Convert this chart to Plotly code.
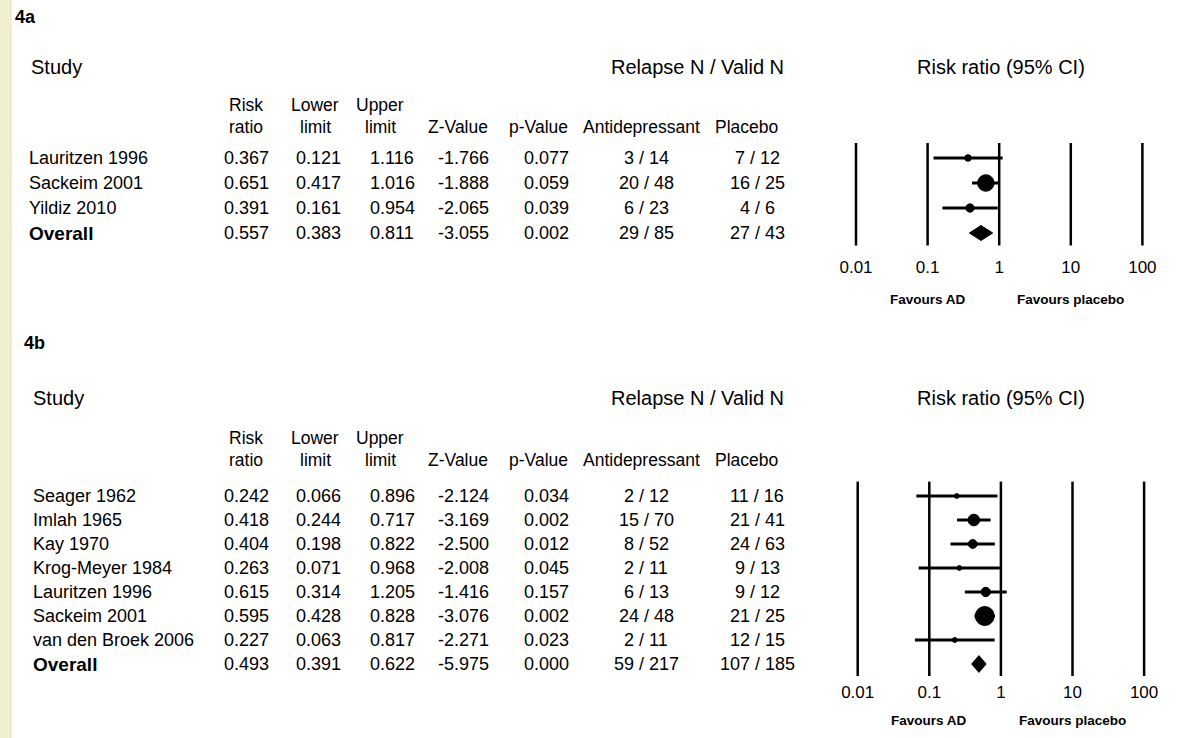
import math
import plotly.graph_objects as go

W, H = 1178, 738
FONT = "Arial, 'Liberation Sans', sans-serif"

# ---- 4a: relapse prevention trials ----
a_studies = ["Lauritzen 1996", "Sackeim 2001", "Yildiz 2010"]
a_rr = [0.367, 0.651, 0.391]
a_lower = [0.121, 0.417, 0.161]
a_upper = [1.116, 1.016, 0.954]
a_z = [-1.766, -1.888, -2.065]
a_p = [0.077, 0.059, 0.039]
a_ad_relapse = [3, 20, 6]
a_ad_n = [14, 48, 23]
a_pl_relapse = [7, 16, 4]
a_pl_n = [12, 25, 6]
a_overall = [0.557, 0.383, 0.811, -3.055, 0.002, 29, 85, 27, 43]

# ---- 4b: continuation trials ----
b_studies = ["Seager 1962", "Imlah 1965", "Kay 1970", "Krog-Meyer 1984",
             "Lauritzen 1996", "Sackeim 2001", "van den Broek 2006"]
b_rr = [0.242, 0.418, 0.404, 0.263, 0.615, 0.595, 0.227]
b_lower = [0.066, 0.244, 0.198, 0.071, 0.314, 0.428, 0.063]
b_upper = [0.896, 0.717, 0.822, 0.968, 1.205, 0.828, 0.817]
b_z = [-2.124, -3.169, -2.500, -2.008, -1.416, -3.076, -2.271]
b_p = [0.034, 0.002, 0.012, 0.045, 0.157, 0.002, 0.023]
b_ad_relapse = [2, 15, 8, 2, 6, 24, 2]
b_ad_n = [12, 70, 52, 11, 13, 48, 11]
b_pl_relapse = [11, 21, 24, 9, 9, 21, 12]
b_pl_n = [16, 41, 63, 13, 12, 25, 15]
b_overall = [0.493, 0.391, 0.622, -5.975, 0.000, 59, 217, 107, 185]

scale_ticks = [0.01, 0.1, 1, 10, 100]
scale_labels = ["0.01", "0.1", "1", "10", "100"]
head_line1 = ["Risk", "Lower", "Upper"]
head_line2 = ["ratio", "limit", "limit", "Z-Value", "p-Value", "Antidepressant", "Placebo"]

panels = [
    dict(tag="4a", studies=a_studies, rr=a_rr, lo=a_lower, hi=a_upper, z=a_z, p=a_p,
         adr=a_ad_relapse, adn=a_ad_n, plr=a_pl_relapse, pln=a_pl_n, ov=a_overall,
         xa="x", ya="y", tag_x=13, tag_y=17, title_y=67, h1_y=105, h2_y=127,
         row0=158, step=25, name_x=27, study_x=29, zero_px=856, dom=(130, 255),
         fav_y=299, max_marker=16.5, diamond_h=0.3),
    dict(tag="4b", studies=b_studies, rr=b_rr, lo=b_lower, hi=b_upper, z=b_z, p=b_p,
         adr=b_ad_relapse, adn=b_ad_n, plr=b_pl_relapse, pln=b_pl_n, ov=b_overall,
         xa="x2", ya="y2", tag_x=22, tag_y=343, title_y=398, h1_y=438, h2_y=460,
         row0=496, step=24, name_x=31, study_x=31, zero_px=857.7, dom=(470, 680),
         fav_y=720, max_marker=19, diamond_h=0.35),
]

# column centres (px) for the numeric table and its headers
num_cols = [246, 318, 392, 463, 546, 646, 757]
head_cols = [246, 315, 380, 458, 538, 641, 746]
DECADE = 71.6
PLOT_L, PLOT_R = 820, 1178

annotations = []


def px(x):
    return x / W


def py(y):
    return 1 - y / H


def text(s, x, y, size=18, bold=False, anchor="center"):
    annotations.append(dict(
        text=f"<b>{s}</b>" if bold else s, x=px(x), y=py(y), xref="paper", yref="paper",
        xanchor=anchor, yanchor="middle", showarrow=False,
        font=dict(family=FONT, size=size, color="#000000")))


fig = go.Figure()
layout_axes = {}

for pn in panels:
    n = len(pn["studies"])
    # headings
    text(pn["tag"], pn["tag_x"], pn["tag_y"], size=18, bold=True, anchor="left")
    text("Study", pn["study_x"], pn["title_y"], size=20, anchor="left")
    text("Relapse N / Valid N", 697, pn["title_y"], size=20)
    text("Risk ratio (95% CI)", 1001, pn["title_y"], size=20)
    for s, cx in zip(head_line1, head_cols):
        text(s, cx, pn["h1_y"], size=17.5)
    for s, cx in zip(head_line2, head_cols):
        text(s, cx, pn["h2_y"], size=17.5)

    # table body
    rows = []
    for i in range(n):
        rows.append((pn["studies"][i], pn["rr"][i], pn["lo"][i], pn["hi"][i], pn["z"][i], pn["p"][i],
                     pn["adr"][i], pn["adn"][i], pn["plr"][i], pn["pln"][i], False))
    ov = pn["ov"]
    rows.append(("Overall", ov[0], ov[1], ov[2], ov[3], ov[4], ov[5], ov[6], ov[7], ov[8], True))
    for i, r in enumerate(rows):
        y = pn["row0"] + pn["step"] * i
        if r[-1]:
            text(r[0], pn["name_x"], y, size=19, bold=True, anchor="left")
        else:
            text(r[0], pn["name_x"], y, size=18, anchor="left")
        vals = [f"{r[1]:.3f}", f"{r[2]:.3f}", f"{r[3]:.3f}", f"{r[4]:.3f}", f"{r[5]:.3f}",
                f"{r[6]} / {r[7]}", f"{r[8]} / {r[9]}"]
        for v, cx in zip(vals, num_cols):
            text(v, cx, y, size=18)

    # forest plot axes
    top_px, bot_px = pn["dom"]
    r0 = -2 - (pn["zero_px"] - PLOT_L) / DECADE
    r1 = r0 + (PLOT_R - PLOT_L) / DECADE
    xkey = "xaxis" if pn["xa"] == "x" else "xaxis2"
    ykey = "yaxis" if pn["ya"] == "y" else "yaxis2"
    layout_axes[xkey] = dict(
        type="log", domain=[px(PLOT_L), px(PLOT_R)], range=[r0, r1], anchor=pn["ya"],
        tickvals=scale_ticks, ticktext=scale_labels, showgrid=False, zeroline=False,
        showline=False, ticks="", tickfont=dict(family=FONT, size=17, color="#000000"))
    layout_axes[ykey] = dict(
        domain=[py(bot_px), py(top_px)],
        range=[(bot_px - pn["row0"]) / pn["step"], (top_px - pn["row0"]) / pn["step"]],
        anchor=pn["xa"], visible=False, showgrid=False, zeroline=False)

    # vertical reference lines at each decade
    lx, ly = [], []
    for t in scale_ticks:
        lx += [t, t, None]
        ly += [-0.6, n + 0.5, None]
    fig.add_trace(go.Scatter(x=lx, y=ly, mode="lines", xaxis=pn["xa"], yaxis=pn["ya"],
                             line=dict(color="#000000", width=2.5), hoverinfo="skip",
                             showlegend=False, cliponaxis=False))

    # inverse-variance weights set the marker size
    wts = []
    for lo, hi in zip(pn["lo"], pn["hi"]):
        se = (math.log(hi) - math.log(lo)) / (2 * 1.96)
        wts.append(1 / se ** 2)
    wmax = max(wts)
    sizes = [pn["max_marker"] * math.sqrt(w / wmax) for w in wts]

    # confidence intervals
    cx_, cy_ = [], []
    for i in range(n):
        cx_ += [pn["lo"][i], pn["hi"][i], None]
        cy_ += [i, i, None]
    fig.add_trace(go.Scatter(x=cx_, y=cy_, mode="lines", xaxis=pn["xa"], yaxis=pn["ya"],
                             line=dict(color="#000000", width=3), hoverinfo="skip",
                             showlegend=False, cliponaxis=False))
    fig.add_trace(go.Scatter(x=pn["rr"], y=list(range(n)), mode="markers",
                             xaxis=pn["xa"], yaxis=pn["ya"],
                             marker=dict(symbol="circle", size=sizes, color="#000000",
                                         opacity=1, line=dict(width=1, color="#000000")),
                             showlegend=False, cliponaxis=False))

    # pooled estimate diamond
    h = pn["diamond_h"]
    fig.add_trace(go.Scatter(x=[ov[1], ov[0], ov[2], ov[0], ov[1]],
                             y=[n, n - h, n, n + h, n], mode="lines", fill="toself",
                             fillcolor="#000000", line=dict(color="#000000", width=1),
                             xaxis=pn["xa"], yaxis=pn["ya"], showlegend=False,
                             hoverinfo="skip"))

    # direction labels under the scale
    for s, xv in (("Favours AD", -1), ("Favours placebo", 1)):
        annotations.append(dict(text=f"<b>{s}</b>", x=xv, y=py(pn["fav_y"]), xref=pn["xa"],
                                yref="paper", xanchor="center", yanchor="middle",
                                showarrow=False,
                                font=dict(family=FONT, size=13.5, color="#000000")))

fig.update_layout(
    width=W, height=H, margin=dict(l=0, r=0, t=0, b=0),
    paper_bgcolor="#ffffff", plot_bgcolor="rgba(0,0,0,0)",
    annotations=annotations, showlegend=False,
    shapes=[
        dict(type="rect", xref="paper", yref="paper", x0=0, x1=px(11), y0=0, y1=1,
             fillcolor="#F2EFCF", line=dict(width=0), layer="below"),
        dict(type="line", xref="paper", yref="paper", x0=px(11), x1=px(11), y0=0, y1=1,
             line=dict(color="#E4E0BA", width=1), layer="below"),
    ],
    **layout_axes,
)

fig.write_html("out.html")
